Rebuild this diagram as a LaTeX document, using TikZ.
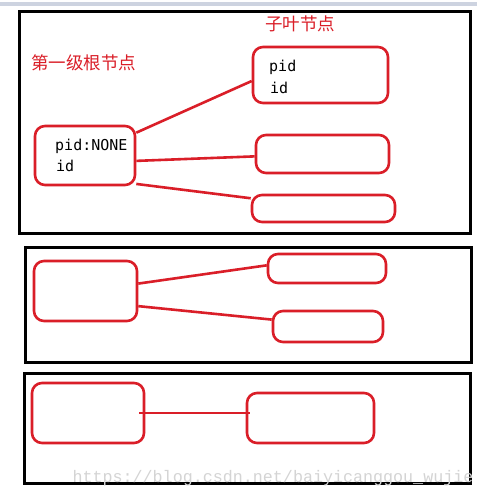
\documentclass[tikz,border=0pt]{standalone}
\usepackage{fontspec}
\newfontfamily\cjk{Noto Sans CJK SC}
\newfontfamily\codefont{DejaVu Sans Mono}
\newfontfamily\wmfont{Liberation Mono}
\definecolor{boxred}{RGB}{218,30,40}
\definecolor{barblue}{RGB}{205,211,224}
\definecolor{wmgray}{RGB}{212,212,212}
\begin{document}
\begin{tikzpicture}[x=1pt,y=-1pt,
  frame/.style={draw=black,line width=3pt,inner sep=0pt},
  rbox/.style={draw=boxred,line width=2.6pt,rounded corners=10pt,inner sep=0pt},
  link/.style={draw=boxred,line width=2.6pt},
  cjklabel/.style={text=boxred,font=\cjk\fontsize{17.5}{19}\selectfont,inner sep=0pt},
  code/.style={font=\codefont\fontsize{15}{17}\selectfont,inner sep=0pt,anchor=west},
  wmark/.style={text=wmgray,font=\wmfont\fontsize{16.7}{18}\selectfont,inner sep=0pt}]
\useasboundingbox[fill=white] (0,0) rectangle (489,495);
\fill[barblue] (0,2) rectangle (477,6);

% frames
\node[frame,minimum width=451pt,minimum height=221pt] (f1) at (244.5,122.5) {};
\node[frame,minimum width=446pt,minimum height=115pt] (f2) at (248,304.5) {};
\node[frame,minimum width=446pt,minimum height=110pt] (f3) at (247,428) {};

% frame 1
\node[cjklabel] (lroot) at (83.5,63) {第一级根节点};
\node[cjklabel] (lleaf) at (300,24) {子叶节点};
\node[rbox,minimum width=100pt,minimum height=59pt] (root) at (85,155.5) {};
\node[rbox,minimum width=135pt,minimum height=56pt] (leafa) at (320.5,75) {};
\node[rbox,minimum width=133pt,minimum height=38pt] (leafb) at (322.5,154) {};
\node[rbox,minimum width=143pt,minimum height=27pt] (leafc) at (323.5,208.5) {};
\node[code] (t1) at (55,146) {pid:NONE};
\node[code] (t2) at (56,166) {id};
\node[code] (t3) at (269,67) {pid};
\node[code] (t4) at (270,88) {id};
\draw[link] (root.24) -- (leafa.185.5);
\draw[link] (root.354) -- (leafb.182.6);
\draw[link] (root.331) -- (leafc.172.8);

% frame 2
\node[rbox,minimum width=103pt,minimum height=60pt] (boxa) at (85.5,291) {};
\node[rbox,minimum width=118pt,minimum height=29pt] (boxb) at (327,268.5) {};
\node[rbox,minimum width=110pt,minimum height=31pt] (boxc) at (328,326.5) {};
\draw[link] (boxa.8.8) -- (boxb.177.6);
\draw[link] (boxa.344) -- (boxc.173.3);

% frame 3
\node[rbox,minimum width=112pt,minimum height=60pt] (boxd) at (88,413) {};
\node[rbox,minimum width=127pt,minimum height=50pt] (boxe) at (310.5,418) {};
\draw[link,shorten <=-6pt,shorten >=-4pt] (boxd.east) -- (boxe.west |- boxd.east);

\node[wmark] (wm) at (273,478) {https://blog.csdn.net/baiyicanggou\_wujie};
\end{tikzpicture}
\end{document}
